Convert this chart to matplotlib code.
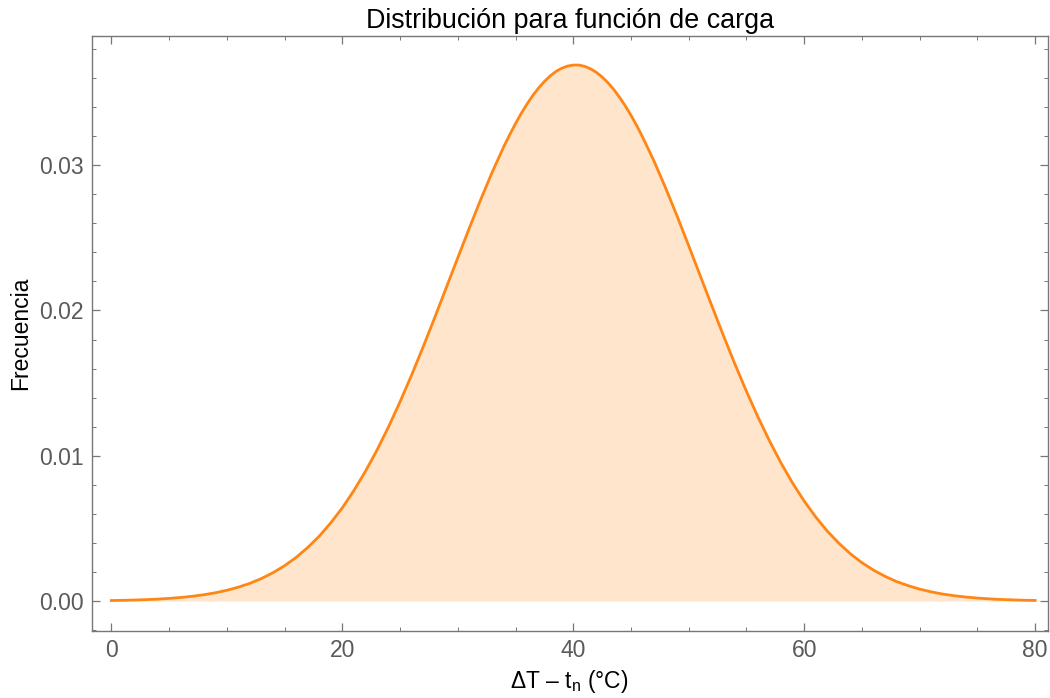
import matplotlib
matplotlib.use("Agg")
import matplotlib.pyplot as plt
from matplotlib.ticker import MultipleLocator

plt.rcParams['font.family'] = ['Liberation Sans', 'DejaVu Sans']
plt.rcParams['mathtext.fontset'] = 'custom'
plt.rcParams['mathtext.rm'] = 'Liberation Sans'
plt.rcParams['mathtext.it'] = 'Liberation Sans'

# Values
x_vals = [0, 1, 2, 3, 4, 5, 6, 7, 8, 9, 10, 11, 12, 13, 14, 15, 16, 17, 18, 19,
          20, 21, 22, 23, 24, 25, 26, 27, 28, 29, 30, 31, 32, 33, 34, 34.5, 35, 35.5,
          36, 36.5, 37, 37.5, 38, 38.5, 39, 39.5, 40, 40.5, 41, 41.5, 42, 42.5, 43,
          43.5, 44, 44.5, 45, 45.5, 46, 47, 48, 49, 50, 51, 52, 53, 54, 55, 56, 57,
          58, 59, 60, 61, 62, 63, 64, 65, 66, 67, 68, 69, 70, 71, 72, 73, 74, 75, 76,
          77, 78, 79, 80]
freq = [0.000036, 0.000051, 0.000071, 0.000098, 0.000134, 0.000182, 0.000245, 0.000328,
        0.000433, 0.000569, 0.00074, 0.000955, 0.00122, 0.00155, 0.00195, 0.00243,
        0.00300, 0.00368, 0.00446, 0.00538, 0.00641, 0.00760, 0.00892, 0.01038, 0.01198,
        0.01371, 0.01555, 0.01749, 0.01950, 0.02156, 0.02362, 0.02567, 0.02766, 0.02955,
        0.03130, 0.03210, 0.03286, 0.03357, 0.03421, 0.03480, 0.03531, 0.03576, 0.03614,
        0.03645, 0.03667, 0.03682, 0.03689, 0.03689, 0.03680, 0.03663, 0.03639, 0.03607,
        0.03568, 0.03522, 0.03468, 0.03409, 0.03343, 0.03272, 0.03194, 0.03027, 0.02843,
        0.02648, 0.02445, 0.02238, 0.02032, 0.01828, 0.01631, 0.01443, 0.01266, 0.01101,
        0.00949, 0.00811, 0.00688, 0.00578, 0.00481, 0.00398, 0.00325, 0.00264, 0.00213,
        0.00170, 0.00134, 0.00106, 0.00082, 0.000633, 0.00048, 0.000367, 0.000276,
        0.000206, 0.000152, 0.000111, 0.000081, 0.000058, 0.000041]

title = "Distribución para función de carga"
xlabel = "ΔT – t$_{\\mathrm{n}}$ (°C)"
ylabel = "Frecuencia"

fig = plt.figure(figsize=(10.5, 6.98), dpi=100)
ax = fig.add_axes([0.0873, 0.096, 0.9107, 0.8524])

line_color = '#FF8614'
fill_color = '#FFE5CC'
ax.fill_between(x_vals, freq, 0, color=fill_color, lw=0)
ax.plot(x_vals, freq, color=line_color, lw=2.0, solid_joinstyle='round')

ax.set_xlim(-1.7, 81.1)
ax.set_ylim(-0.00206, 0.03889)

ax.xaxis.set_major_locator(MultipleLocator(20))
ax.xaxis.set_minor_locator(MultipleLocator(5))
ax.yaxis.set_major_locator(MultipleLocator(0.01))
ax.yaxis.set_minor_locator(MultipleLocator(0.002))
ax.yaxis.set_major_formatter(plt.FuncFormatter(lambda v, p: f"{v:.2f}"))

spine_c = '#777777'
for s in ax.spines.values():
    s.set_color(spine_c)
    s.set_linewidth(1.0)
ax.tick_params(which='both', direction='in', top=True, right=True, color=spine_c,
               labelcolor='#5a5a5a', labelsize=16.5)
ax.tick_params(which='major', length=5.5, width=0.9, pad=6)
ax.tick_params(which='minor', length=3.2, width=0.7)

ax.set_title(title, fontsize=19.4, color='black', pad=6)
ax.set_xlabel(xlabel, fontsize=16.5, color='black', labelpad=4)
ax.set_ylabel(ylabel, fontsize=16.5, color='black', labelpad=5)

fig.savefig("out.png", dpi=100)
